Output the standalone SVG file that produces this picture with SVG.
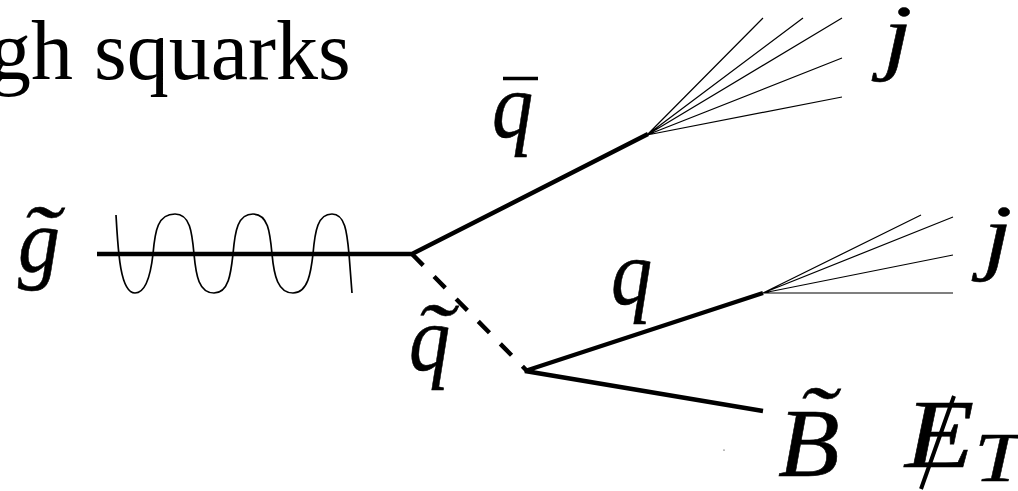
<svg xmlns="http://www.w3.org/2000/svg" width="1018" height="491" viewBox="0 0 1018 491">
<style>
.m{font-family:"Liberation Serif","Times New Roman",serif;font-style:italic;fill:#000;stroke:#000;stroke-width:.5;font-size:84px}
.t{font-family:"Liberation Serif","Times New Roman",serif;fill:#000}
.thick{stroke:#000;stroke-width:4.4;fill:none}
.thin{stroke:#000;stroke-width:1.2;fill:none}
</style>
<rect width="1018" height="491" fill="#fff"/>
<text class="t" x="-11" y="79" font-size="84">gh squarks</text>
<g id="connectors">
<path class="thick" d="M97 254H412L648 134"/>
<path class="thick" d="M412 254L527 371" stroke-dasharray="16 15.5"/>
<path class="thick" d="M763 293L525 371L763 411"/>
<path class="thin" d="M647 135L763 18M647 135L803 18M647 135L842 18M647 135L842 58M647 135L842 97"/>
<path class="thin" d="M763 293L921 215M763 293L953 217M763 293L953 255M763 293H953"/>
<path class="thin" style="stroke-width:1.7" d="M116 215C118 250 120 293 135 293C147 293 151 272 153 254C155 230 158 214 175 214C190 214 192 232 194 254C196 276 199 293 214 293C229 293 231 272 233 254C235 230 238 214 253 214C268 214 270 232 272 254C274 276 278 293 293 293C308 293 311 272 313 254C315 230 318 214 332 214C345 214 347 232 349 254L352 293"/>
<circle cx="724" cy="450" r="0.6" fill="#000"/>
</g>
<g id="gluino"><text class="m" transform="translate(18 272) scale(1 1.08)">g</text><text class="m" transform="translate(20 264) scale(1.35 1)">˜</text></g>
<g id="antiquark"><text class="m" transform="translate(492 137) scale(.98 1.1)">q</text><path d="M503 78.500H538" stroke="#000" stroke-width="3.500"/></g>
<g id="quark"><text class="m" transform="translate(611 304) scale(.98 1.1)">q</text></g>
<g id="squark"><text class="m" transform="translate(409 370) scale(.98 1.1)">q</text><text class="m" transform="translate(414 362) scale(1.35 1)">˜</text></g>
<g id="jet1"><text class="m" transform="translate(883 64) scale(1.25 1)">j</text></g>
<g id="jet2"><text class="m" transform="translate(983 264) scale(1.25 1)">j</text></g>
<g id="bino"><text class="m" transform="translate(778 476) scale(1.2 1.15)">B</text><text class="m" transform="translate(796 445) scale(1.35 1)">˜</text></g>
<g id="met"><text class="m" transform="translate(905 467) scale(1.35 1.15)">E</text><path d="M954 396L921 489" stroke="#000" stroke-width="4"/><text class="m" transform="translate(974 481) scale(1.05 .82)">T</text></g>
</svg>
